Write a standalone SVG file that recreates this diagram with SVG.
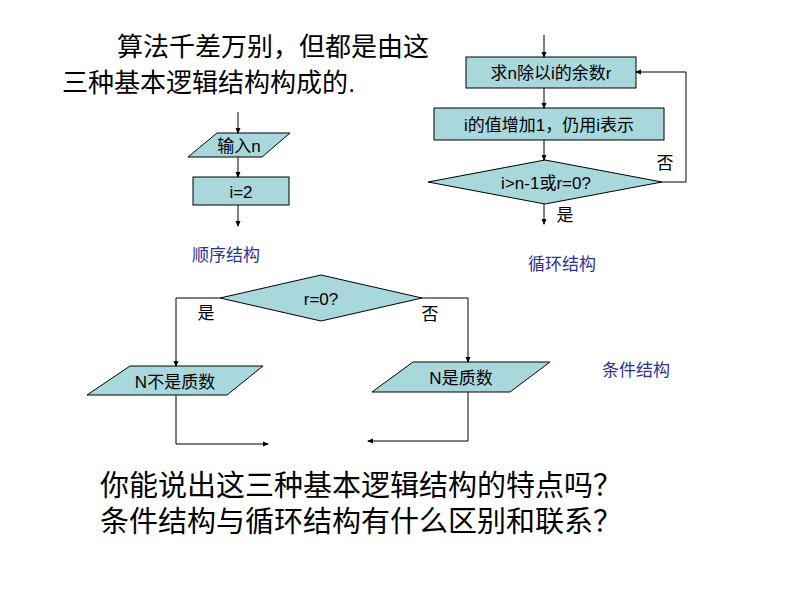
<svg xmlns="http://www.w3.org/2000/svg" width="794" height="596" viewBox="0 0 794 596">
<defs>
<marker id="a" markerWidth="6" markerHeight="6" refX="5" refY="3" orient="auto" markerUnits="userSpaceOnUse"><path d="M0,0.5 L6,3 L0,5.5 Z" fill="#000"/></marker>
<style>
.s{fill:#a8d8dc;stroke:#000;stroke-width:1}
.c{fill:none;stroke:#000;stroke-width:1;marker-end:url(#a)}
text{font-family:"Liberation Sans","Noto Sans CJK SC",sans-serif;fill:#000}
.t{font-size:17px;text-anchor:middle}
.b{font-size:17px;fill:#2e3192}
.h{font-size:26px}
.q{font-size:29px}
</style>
</defs>
<rect width="794" height="596" fill="#fff"/>
<text class="h" x="117" y="56">算法千差万别，但都是由这</text>
<text class="h" x="62" y="92">三种基本逻辑结构构成的.</text>
<g id="seq-input"><polygon class="s" points="217,133 290,133 262,157 188,157"/><text class="t" x="239" y="152">输入n</text></g>
<g id="seq-i2"><rect class="s" x="193" y="177" width="96" height="28"/><text class="t" x="241" y="198">i=2</text></g>
<text class="b" x="192" y="261">顺序结构</text>
<g id="loop-rem"><rect class="s" x="466" y="57" width="170" height="31"/><text class="t" x="551" y="79">求n除以i的余数r</text></g>
<g id="loop-inc"><rect class="s" x="434" y="108" width="230" height="32"/><text class="t" x="549" y="131">i的值增加1，仍用i表示</text></g>
<g id="loop-cond"><polygon class="s" points="428,182 545,160 662,182 545,204"/><text class="t" x="546" y="189">i&gt;n-1或r=0?</text></g>
<text class="b" x="528" y="270">循环结构</text>
<g id="cond-dec"><polygon class="s" points="220,298 321,275 422,298 321,321"/><text class="t" x="321" y="305">r=0?</text></g>
<g id="cond-not"><polygon class="s" points="130,366 263,366 227,395 87,395"/><text class="t" x="175" y="388">N不是质数</text></g>
<g id="cond-prime"><polygon class="s" points="413,362 550,362 510,392 372,392"/><text class="t" x="461" y="384">N是质数</text></g>
<text class="b" x="602" y="376">条件结构</text>
<g id="connectors">
<line class="c" x1="238" y1="112" x2="238" y2="133"/>
<line class="c" x1="238" y1="157" x2="238" y2="177"/>
<line class="c" x1="238" y1="205" x2="238" y2="226"/>
<line class="c" x1="544" y1="35" x2="544" y2="57"/>
<line class="c" x1="544" y1="88" x2="544" y2="108"/>
<line class="c" x1="544" y1="140" x2="544" y2="160"/>
<polyline class="c" points="662,182 686,182 686,72 636,72"/>
<line class="c" x1="544" y1="204" x2="544" y2="224"/>
<polyline class="c" points="220,298 176,298 176,366"/>
<polyline class="c" points="422,298 468,298 468,362"/>
<polyline class="c" points="176,395 176,444 268,444"/>
<polyline class="c" points="468,392 468,441 368,441"/>
</g>
<text class="t" x="665" y="169">否</text>
<text class="t" x="565" y="221">是</text>
<text class="t" x="206" y="319">是</text>
<text class="t" x="430" y="320">否</text>
<text class="q" x="100" y="496">你能说出这三种基本逻辑结构的特点吗？</text>
<text class="q" x="100" y="532">条件结构与循环结构有什么区别和联系？</text>
</svg>
